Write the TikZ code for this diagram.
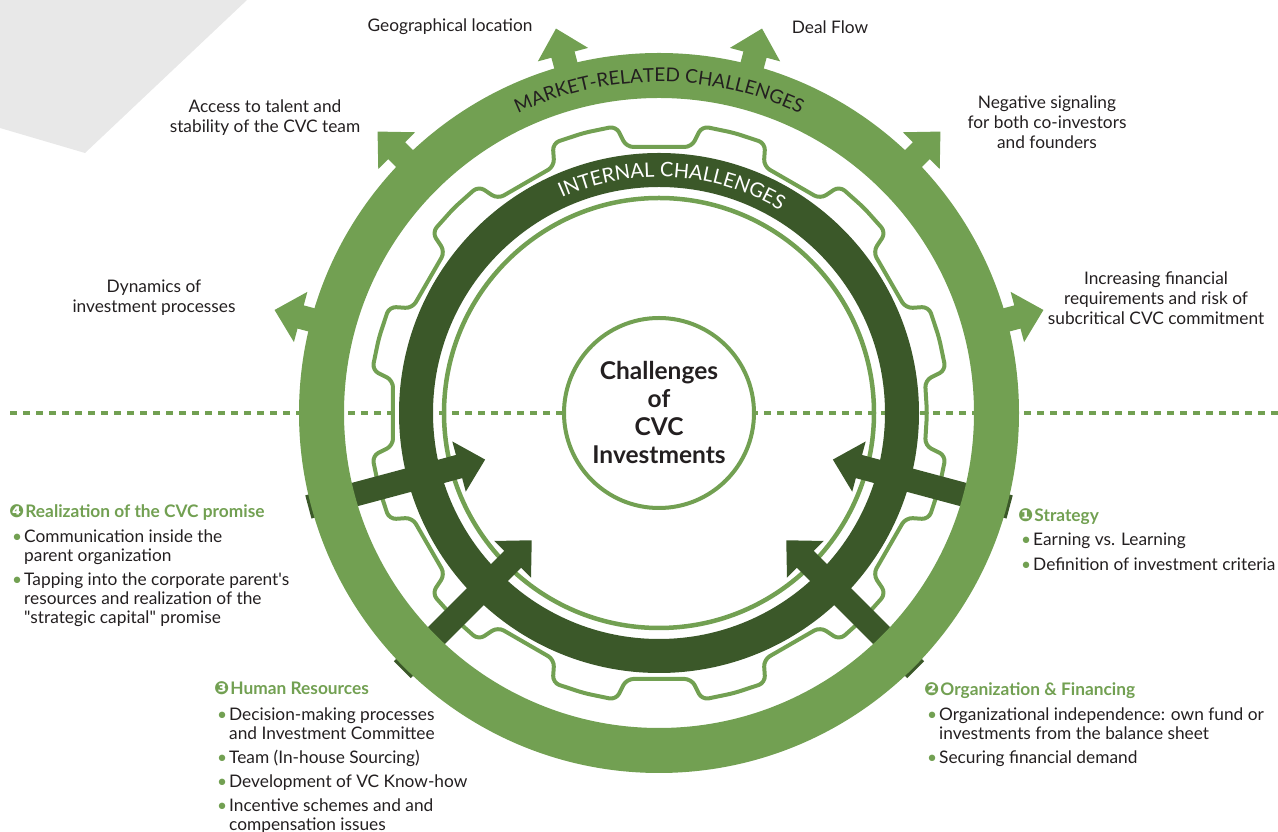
\documentclass[tikz,border=0pt]{standalone}
\usepackage{fontspec}
\setmainfont{Lato}[Ligatures=TeXOff]
\newfontfamily\dingfont{DejaVu Sans}
\usetikzlibrary{decorations.text}
\definecolor{lg}{HTML}{72A052}
\definecolor{dg}{HTML}{3B5829}
\definecolor{txt}{HTML}{231F20}
\definecolor{graybg}{HTML}{E8E8E8}
\newcommand\bul{\makebox[15pt][l]{\hspace{3pt}\textcolor{lg}{\textbullet}}}
\newcommand\ind{\hspace*{15pt}}
\newcommand\hd[2]{{\bfseries\color{lg}{\dingfont\fontsize{18}{18}\selectfont #1}\hspace{1pt}#2}}
\newcommand\ringfontA{\fontsize{19}{19}\selectfont}
\newcommand\ringfontB{\fontsize{20}{20}\selectfont}
\begin{document}
\begin{tikzpicture}[x=1pt,y=1pt,
  lbl/.style={font=\fontsize{17.3}{20}\selectfont, text=txt, align=center, inner sep=0},
  lst/.style={font=\fontsize{17.3}{19}\selectfont, text=txt, align=left, inner sep=0, anchor=north west},
  inarrow/.style={fill=dg},
  outarrow/.style={fill=lg}]
\useasboundingbox (0,0) rectangle (1278,832);
% grey paper corner
\fill[graybg] (0,832) -- (247,832) -- (85,679) -- (0,704) -- cycle;
% dashed divider
\draw[lg, line width=4pt, dash pattern=on 7pt off 6pt] (10,419) -- (1278,419);
\begin{scope}[shift={(659,419)}]
  % gear outline
  \draw[lg, line width=4pt, rounded corners=7pt] (0:268)
    \foreach \a in {15,45,...,345} { -- (\a-8:268) -- (\a-6.5:290) -- (\a:290) -- (\a+6.5:290) -- (\a+8:268) } -- cycle;
  % centre
  \node[circle, draw=lg, line width=4pt, fill=white, minimum size=190pt, inner sep=0, align=center,
        font=\bfseries\fontsize{24.5}{28}\selectfont, text=txt] (core) at (0,0) {Challenges\\of\\CVC\\Investments};
  % dark ring
  \fill[dg, even odd rule] (0,0) circle[radius=260] (0,0) circle[radius=226];
  % thin inner ring
  \draw[lg, line width=4.5pt] (0,0) circle[radius=215];
  % inward arrows
  \foreach \a in {195,225,315,345} {
    \fill[inarrow, rotate=\a] (363,-12) -- (207,-12) -- (207,-26) -- (180,0) -- (207,26) -- (207,12) -- (363,12) -- cycle;
  }
  % outer ring
  \fill[lg, even odd rule] (0,0) circle[radius=360] (0,0) circle[radius=315];
  \foreach \a in {15,45,...,165} {
    \fill[outarrow, rotate=\a] (330,-12) -- (371,-12) -- (371,-26) -- (398,0) -- (371,26) -- (371,12) -- (330,12) -- cycle;
  }
  % ring texts
  \path[decorate, decoration={text along path, text align=center,
        text={|\ringfontA\color{txt}|MARKET-RELATED CHALLENGES}}]
        (150:331) arc[start angle=150, end angle=30, radius=331];
  \path[decorate, decoration={text along path, text align=center,
        text={|\ringfontB\color{white}|INTERNAL CHALLENGES}}]
        (146.7:236) arc[start angle=146.7, end angle=26.7, radius=236];
\end{scope}
% outer labels
\node[lbl] (geo) at (450,805) {Geographical location};
\node[lbl] (deal) at (830,805) {Deal Flow};
\node[lbl] (talent) at (265,714) {Access to talent and\\stability of the CVC team};
\node[lbl] (neg) at (1047,710) {Negative signaling\\for both co-investors\\and founders};
\node[lbl] (dyn) at (154,534) {Dynamics of\\investment processes};
\node[lbl] (inc) at (1156,534) {Increasing financial\\requirements and risk of\\subcritical CVC commitment};
% lists
\node[lst] (l4) at (9,328) {\hd{❹}{Realization of the CVC promise}\\[6pt]
  \bul Communication inside the\\ \ind parent organization\\[5pt]
  \bul Tapping into the corporate parent's\\ \ind resources and realization of the\\ \ind "strategic capital" promise};
\node[lst] (l1) at (1018,324) {\hd{❶}{Strategy}\\[5pt]
  \bul Earning vs. Learning\\[6pt]
  \bul Definition of investment criteria};
\node[lst] (l3) at (214,151) {\hd{❸}{Human Resources}\\[7pt]
  \bul Decision-making processes\\ \ind and Investment Committee\\[5pt]
  \bul Team (In-house Sourcing)\\[5pt]
  \bul Development of VC Know-how\\[5pt]
  \bul Incentive schemes and and\\ \ind compensation issues};
\node[lst] (l2) at (924,150) {\hd{❷}{Organization \& Financing}\\[6pt]
  \bul Organizational independence: own fund or\\ \ind investments from the balance sheet\\[5pt]
  \bul Securing financial demand};
\end{tikzpicture}
\end{document}
